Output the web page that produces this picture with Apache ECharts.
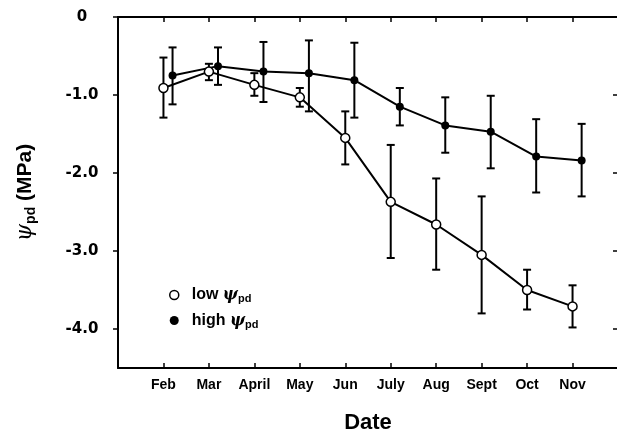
<!DOCTYPE html>
<html>
<head>
<meta charset="utf-8">
<script src="https://cdn.jsdelivr.net/npm/echarts@6/dist/echarts.min.js"></script>
<style>
  html, body { margin: 0; padding: 0; background: #fff; }
  #chart { width: 617px; height: 437px; }
</style>
</head>
<body>
<div id="chart"></div>
<script>
// month names along the x axis (positions 1..10)
var months = ['Feb', 'Mar', 'April', 'May', 'Jun', 'July', 'Aug', 'Sept', 'Oct', 'Nov'];
var yTicks = [0, -1, -2, -3, -4];

// low psi_pd group (open circles): mean, upper and lower end of the error bar
var lowMean = [-0.91, -0.70, -0.87, -1.03, -1.55, -2.37, -2.66, -3.05, -3.50, -3.71];
var lowTop  = [-0.52, -0.60, -0.72, -0.91, -1.21, -1.64, -2.07, -2.30, -3.24, -3.44];
var lowBot  = [-1.29, -0.81, -1.01, -1.15, -1.89, -3.09, -3.24, -3.80, -3.75, -3.98];

// high psi_pd group (filled circles)
var highMean = [-0.75, -0.63, -0.70, -0.72, -0.81, -1.15, -1.39, -1.47, -1.79, -1.84];
var highTop  = [-0.39, -0.39, -0.32, -0.30, -0.33, -0.91, -1.03, -1.01, -1.31, -1.37];
var highBot  = [-1.12, -0.87, -1.09, -1.21, -1.29, -1.39, -1.74, -1.94, -2.25, -2.30];

var FONT = 'Liberation Sans';

function toPoints(vals) {
  return vals.map(function (v, i) { return [i + 1, v]; });
}
function toBars(top, bot) {
  return top.map(function (t, i) { return [i + 1, t, bot[i]]; });
}

// error bar with small caps
function renderErr(params, api) {
  var x = api.value(0);
  var p1 = api.coord([x, api.value(1)]);
  var p2 = api.coord([x, api.value(2)]);
  var w = 4;
  var st = { stroke: '#000', lineWidth: 2 };
  return {
    type: 'group',
    children: [
      { type: 'line', shape: { x1: p1[0], y1: p1[1], x2: p2[0], y2: p2[1] }, style: st },
      { type: 'line', shape: { x1: p1[0] - w, y1: p1[1], x2: p1[0] + w, y2: p1[1] }, style: st },
      { type: 'line', shape: { x1: p2[0] - w, y1: p2[1], x2: p2[0] + w, y2: p2[1] }, style: st }
    ]
  };
}

var legendRich = {
  n: { fontFamily: FONT, fontWeight: 'bold', fontSize: 16, color: '#000' },
  psi: { fontFamily: 'DejaVu Serif', fontStyle: 'italic', fontWeight: 'bold', fontSize: 16, color: '#000' },
  sub: { fontFamily: FONT, fontWeight: 'bold', fontSize: 11, color: '#000', padding: [8, 0, 0, 0] }
};

var myChart = echarts.init(document.getElementById('chart'));
myChart.setOption({
  animation: false,
  grid: { left: 118, right: -1, top: 17, bottom: 69, outerBoundsMode: 'none' },
  legend: {
    orient: 'vertical',
    left: 164,
    top: 282,
    itemWidth: 9,
    itemHeight: 9,
    itemGap: 8,
    data: [
      { name: 'low', icon: 'circle', itemStyle: { color: '#fff', borderColor: '#000', borderWidth: 1.5 } },
      { name: 'high', icon: 'circle', itemStyle: { color: '#000' } }
    ],
    formatter: function (name) {
      return '{n|' + name + ' }{psi|ψ}{sub|pd}';
    },
    textStyle: { rich: legendRich, padding: [0, 0, 0, 8] }
  },
  xAxis: [
    {
      type: 'value', position: 'bottom', min: 0, max: 11, interval: 1,
      name: 'Date', nameLocation: 'middle', nameGap: 44,
      nameTextStyle: { fontFamily: FONT, fontWeight: 'bold', fontSize: 22, color: '#000' },
      axisLine: { onZero: false, lineStyle: { color: '#000', width: 2 } },
      axisTick: { inside: true, length: 5, lineStyle: { color: '#000', width: 1.5 } },
      axisLabel: {
        margin: 10, fontFamily: FONT, fontWeight: 'bold', fontSize: 14, color: '#000',
        formatter: function (v) { return months[v - 1] || ''; }
      },
      splitLine: { show: false }
    },
    {
      type: 'value', position: 'top', min: 0, max: 11, interval: 1,
      axisLine: { onZero: false, lineStyle: { color: '#000', width: 2 } },
      axisTick: { inside: true, length: 5, lineStyle: { color: '#000', width: 1.5 } },
      axisLabel: { show: false },
      splitLine: { show: false }
    },
    {
      // shifted copy so the filled points sit a little right of the month tick
      type: 'value', show: false, min: -0.2, max: 10.8
    }
  ],
  yAxis: [
    {
      type: 'value', position: 'left', min: -4.5, max: 0,
      name: '{psi|ψ}{sub|pd}{n| (MPa)}', nameLocation: 'middle', nameGap: 80,
      nameTextStyle: {
        rich: {
          n: { fontFamily: FONT, fontWeight: 'bold', fontSize: 21, color: '#000' },
          psi: { fontFamily: 'DejaVu Serif', fontStyle: 'italic', fontSize: 22, color: '#000' },
          sub: { fontFamily: FONT, fontWeight: 'bold', fontSize: 14, color: '#000', padding: [12, 0, 0, 0] }
        }
      },
      axisLine: { onZero: false, lineStyle: { color: '#000', width: 2 } },
      axisTick: { customValues: yTicks, length: 5, lineStyle: { color: '#000', width: 1.5 } },
      axisLabel: {
        customValues: yTicks, margin: 36, align: 'center',
        fontFamily: 'DejaVu Sans', fontWeight: 'bold', fontSize: 15, color: '#000',
        formatter: function (v) { return v === 0 ? '0' : v.toFixed(1); }
      },
      splitLine: { show: false }
    },
    {
      type: 'value', position: 'right', min: -4.5, max: 0,
      axisLine: { show: true, onZero: false, lineStyle: { color: '#000', width: 2 } },
      axisTick: { customValues: yTicks, inside: true, length: 5, lineStyle: { color: '#000', width: 1.5 } },
      axisLabel: { show: false },
      splitLine: { show: false }
    }
  ],
  series: [
    {
      name: 'lowErr', type: 'custom', xAxisIndex: 0, yAxisIndex: 0,
      renderItem: renderErr, data: toBars(lowTop, lowBot), z: 1
    },
    {
      name: 'highErr', type: 'custom', xAxisIndex: 2, yAxisIndex: 0,
      renderItem: renderErr, data: toBars(highTop, highBot), z: 1
    },
    {
      name: 'low', type: 'line', xAxisIndex: 0, yAxisIndex: 0,
      data: toPoints(lowMean), symbol: 'circle', symbolSize: 9,
      lineStyle: { color: '#000', width: 2 },
      itemStyle: { color: '#fff', borderColor: '#000', borderWidth: 1.5 },
      z: 3
    },
    {
      name: 'high', type: 'line', xAxisIndex: 2, yAxisIndex: 0,
      data: toPoints(highMean), symbol: 'circle', symbolSize: 8,
      lineStyle: { color: '#000', width: 2 },
      itemStyle: { color: '#000' },
      z: 3
    }
  ]
});
</script>
</body>
</html>
